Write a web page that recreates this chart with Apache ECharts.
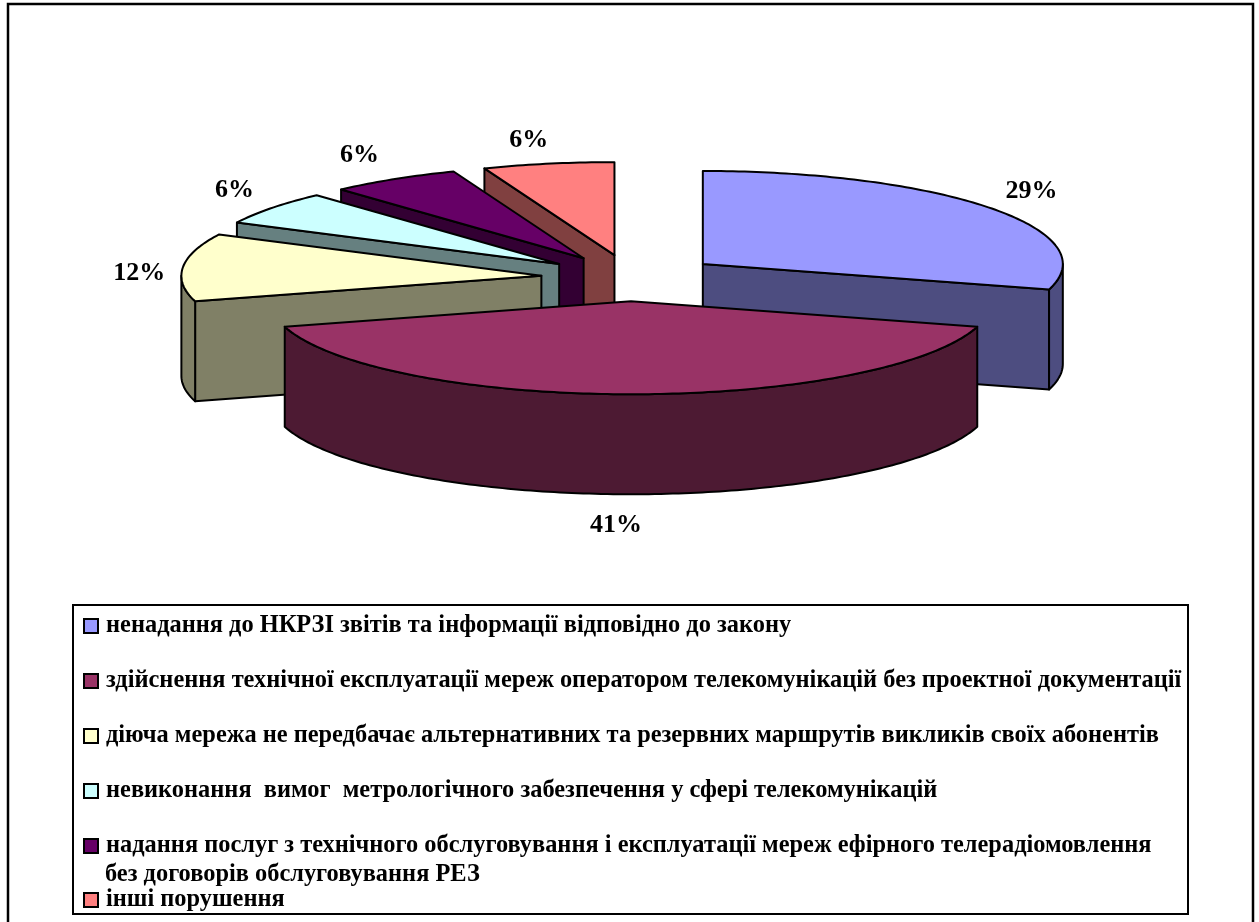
<!DOCTYPE html>
<html><head><meta charset="utf-8">
<style>html,body{margin:0;padding:0;background:#fff}#c{width:1259px;height:922px}</style>
<script src="https://cdn.jsdelivr.net/npm/echarts@6/dist/echarts.min.js"></script>
</head><body><div id="c"></div>
<script>
const categories = [
  'ненадання до НКРЗІ звітів та інформації відповідно до закону',
  'здійснення технічної експлуатації мереж оператором телекомунікацій без проектної документації',
  'діюча мережа не передбачає альтернативних та резервних маршрутів викликів своїх абонентів',
  'невиконання  вимог  метрологічного забезпечення у сфері телекомунікацій',
  'надання послуг з технічного обслуговування і експлуатації мереж ефірного телерадіомовлення\nбез договорів обслуговування РЕЗ',
  'інші порушення'
];
const values = [5, 7, 2, 1, 1, 1];
const topColors = ['#9999FF', '#993366', '#FFFFCC', '#CCFFFF', '#660066', '#FF8080'];
const wallColors = ['#4D4D80', '#4D1A33', '#808066', '#668080', '#330033', '#804040'];
const paintOrder = [5, 4, 3, 2, 0, 1];
const labelShiftX = [4, -15, 3, 0, -10, -11];
const labelShiftY = [1, 1, 9, 0, 1, 6];

const FONT = '"Liberation Serif","Times New Roman",serif';
const CX = 631, CY = 278, RX = 360, RY = 93, DEPTH = 100, EXPLODE = 0.25;
const total = values.reduce((a, b) => a + b, 0);
const startFrac = values.map((_, i) => values.slice(0, i).reduce((a, b) => a + b, 0) / total);

function renderSlice(params, api) {
  const value = api.value(0), s = api.value(1) * Math.PI * 2;
  const e = s + value / total * Math.PI * 2, m = (s + e) / 2;
  const i = params.seriesIndex;
  const ox = CX + EXPLODE * RX * Math.sin(m), oy = CY - EXPLODE * RY * Math.cos(m);
  const rim = t => [ox + RX * Math.sin(t), oy - RY * Math.cos(t)];
  const down = p => [p[0], p[1] + DEPTH];
  const arc = (a, b) => { const n = Math.max(2, Math.ceil((b - a) * 60)), r = [];
    for (let k = 0; k <= n; k++) r.push(rim(a + (b - a) * k / n)); return r; };
  const line = { stroke: '#000', lineWidth: 2, lineJoin: 'round' };
  const children = [];
  const wall = pts => children.push({ type: 'polygon', shape: { points: pts },
    style: Object.assign({ fill: wallColors[i] }, line) });
  const apex = [ox, oy];
  const ends = [];
  if (s > Math.PI) ends.push(s);
  if (e < Math.PI) ends.push(e);
  ends.forEach(t => { const p = rim(t); wall([apex, p, down(p), down(apex)]); });
  const a0 = Math.max(s, Math.PI / 2), a1 = Math.min(e, Math.PI * 1.5);
  if (a1 > a0) { const top = arc(a0, a1); wall(top.concat(top.map(down).reverse())); }
  children.push({ type: 'polygon', shape: { points: [apex].concat(arc(s, e)) },
    style: Object.assign({ fill: topColors[i] }, line) });
  const below = Math.cos(m) < -0.5 ? DEPTH : 0;
  children.push({ type: 'text', style: {
    text: Math.round(value / total * 100) + '%',
    x: ox + 1.13 * RX * Math.sin(m) + labelShiftX[i],
    y: oy - 1.32 * RY * Math.cos(m) + below + labelShiftY[i],
    align: 'center', verticalAlign: 'middle',
    font: 'bold 26px ' + FONT, fill: '#000' } });
  return { type: 'group', children };
}

const legendText = { fontFamily: FONT, fontWeight: 'bold', fontSize: 24.4, color: '#000', lineHeight: 24, padding: [0, 0, 0, 3] };
const legendBase = { orient: 'vertical', left: 83, icon: 'rect', itemWidth: 14, itemHeight: 14,
  padding: 0, selectedMode: false, textStyle: legendText,
  itemStyle: { borderColor: '#000', borderWidth: 2 },
  formatter: n => n.split('\n')[0] };

const chart = echarts.init(document.getElementById('c'), null, { renderer: 'canvas' });
chart.setOption({
  animation: false,
  backgroundColor: '#fff',
  legend: [
    Object.assign({}, legendBase, { top: 614, itemGap: 31, data: categories.slice(0, 5) }),
    Object.assign({}, legendBase, { top: 888, data: categories.slice(5) })
  ],
  graphic: [
    { type: 'rect', z: -1, shape: { x: 8, y: 4, width: 1245, height: 930 },
      style: { fill: 'none', stroke: '#000', lineWidth: 2.5 } },
    { type: 'rect', z: -1, shape: { x: 73, y: 605, width: 1115, height: 309 },
      style: { fill: '#fff', stroke: '#000', lineWidth: 2 } },
    { type: 'text', left: 105, top: 863, z: 5, style: { text: categories[4].split('\n')[1],
      font: 'bold 24.4px ' + FONT, fill: '#000' } }
  ],
  series: categories.map((name, i) => ({
    type: 'custom', name, coordinateSystem: 'none', silent: true,
    z: 2 + paintOrder.indexOf(i),
    itemStyle: { color: topColors[i] },
    renderItem: renderSlice,
    data: [[values[i], startFrac[i]]]
  }))
});
</script></body></html>
